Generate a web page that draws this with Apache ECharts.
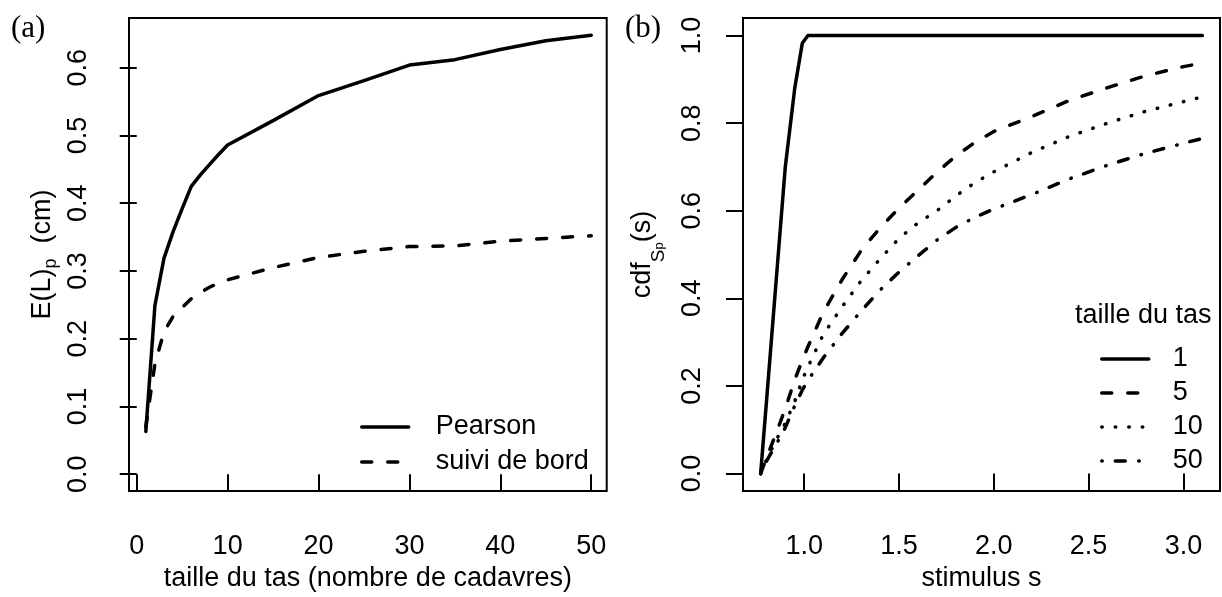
<!DOCTYPE html>
<html><head><meta charset="utf-8">
<script src="https://cdn.jsdelivr.net/npm/echarts@6/dist/echarts.min.js"></script>
<style>html,body{margin:0;padding:0;background:#fff}#c{width:1222px;height:597px}</style>
</head><body><div id="c"></div>
<script>
// ---- panel (a) data ----
const heapSizes   = [1, 2, 3, 4, 5, 6, 7, 8, 9, 10, 15, 20, 25, 30, 35, 40, 45, 50];
const pearson     = [0.063, 0.249, 0.319, 0.358, 0.392, 0.425, 0.442, 0.457, 0.472, 0.486, 0.522, 0.559, 0.581, 0.604, 0.612, 0.627, 0.640, 0.648];
const suiviDeBord = [0.070, 0.163, 0.210, 0.233, 0.246, 0.259, 0.268, 0.276, 0.282, 0.287, 0.305, 0.320, 0.329, 0.336, 0.337, 0.344, 0.348, 0.352];
// ---- panel (b) data ----
const stimulus = [0.77, 0.80, 0.85, 0.90, 0.95, 0.99, 1.02, 1.10, 1.20, 1.30, 1.40, 1.50, 1.60, 1.70, 1.80, 1.90, 2.00, 2.20, 2.40, 2.60, 2.80, 3.00, 3.10];
const cdf1  = [0, 0.16, 0.43, 0.70, 0.88, 0.983, 1, 1, 1, 1, 1, 1, 1, 1, 1, 1, 1, 1, 1, 1, 1, 1, 1];
const cdf5  = [0, 0.035, 0.090, 0.148, 0.214, 0.259, 0.290, 0.368, 0.443, 0.509, 0.561, 0.606, 0.647, 0.688, 0.725, 0.756, 0.781, 0.815, 0.852, 0.881, 0.908, 0.929, 0.937];
const cdf10 = [0, 0.030, 0.075, 0.115, 0.165, 0.214, 0.244, 0.317, 0.381, 0.440, 0.490, 0.537, 0.572, 0.600, 0.634, 0.664, 0.689, 0.733, 0.770, 0.800, 0.827, 0.849, 0.860];
const cdf50 = [0, 0.028, 0.065, 0.105, 0.155, 0.191, 0.213, 0.264, 0.320, 0.371, 0.419, 0.460, 0.497, 0.533, 0.562, 0.585, 0.604, 0.637, 0.673, 0.704, 0.731, 0.754, 0.765];
// ---- ticks ----
const leftXTicks  = [0, 10, 20, 30, 40, 50];
const leftYTicks  = [0, 0.1, 0.2, 0.3, 0.4, 0.5, 0.6];
const rightXTicks = [1.0, 1.5, 2.0, 2.5, 3.0];
const rightYTicks = [0, 0.2, 0.4, 0.6, 0.8, 1.0];
const legendA = ['Pearson', 'suivi de bord'];
const legendB = ['1', '5', '10', '50'];

const FONT = 'Liberation Sans';
const FS = 27;
const LW = 3.5;
const DASHED = [10, 16], DOTTED = [0.5, 13], DOTDASH = [0.5, 13, 10, 13.5];

function zip(xs, ys) { return xs.map((x, i) => [x, ys[i]]); }
function lineSeries(name, xi, yi, xs, ys, type) {
  return {
    name, type: 'line', xAxisIndex: xi, yAxisIndex: yi, data: zip(xs, ys),
    symbol: 'none', silent: true, animation: false,
    lineStyle: { color: '#000', width: LW, type: type, cap: 'round', join: 'round' }
  };
}
const tickStyle = { show: true, inside: false, length: 17, lineStyle: { color: '#000', width: 2 } };
const lblStyle = { color: '#000', fontFamily: FONT, fontSize: FS };

const chart = echarts.init(document.getElementById('c'), null, { renderer: 'canvas' });
chart.setOption({
  backgroundColor: '#fff',
  animation: false,
  title: [
    { text: '(a)', left: 6, top: 8, textStyle: { fontFamily: 'Liberation Serif', fontSize: 31, fontWeight: 'normal', color: '#000' } },
    { text: '(b)', left: 620, top: 8, textStyle: { fontFamily: 'Liberation Serif', fontSize: 31, fontWeight: 'normal', color: '#000' } },
    { text: 'taille du tas', left: 1070, top: 297, textStyle: { fontFamily: FONT, fontSize: FS, fontWeight: 'normal', color: '#000' } }
  ],
  grid: [
    { left: 129, top: 18, width: 477.7, height: 475, show: true, borderColor: '#000', borderWidth: 2, backgroundColor: 'transparent' },
    { left: 743, top: 18, width: 477, height: 475, show: true, borderColor: '#000', borderWidth: 2, backgroundColor: 'transparent' }
  ],
  xAxis: [
    { type: 'value', gridIndex: 0, min: -0.85, max: 51.7,
      axisLine: { show: false }, splitLine: { show: false },
      axisTick: Object.assign({ customValues: leftXTicks }, tickStyle),
      axisLabel: Object.assign({ customValues: leftXTicks, margin: 42, formatter: v => String(v) }, lblStyle),
      name: 'taille du tas (nombre de cadavres)', nameLocation: 'middle', nameGap: 70,
      nameTextStyle: lblStyle },
    { type: 'value', gridIndex: 1, min: 0.677, max: 3.193,
      axisLine: { show: false }, splitLine: { show: false },
      axisTick: Object.assign({ customValues: rightXTicks }, tickStyle),
      axisLabel: Object.assign({ customValues: rightXTicks, margin: 42, formatter: v => v.toFixed(1) }, lblStyle),
      name: 'stimulus s', nameLocation: 'middle', nameGap: 70,
      nameTextStyle: lblStyle }
  ],
  yAxis: [
    { type: 'value', gridIndex: 0, min: -0.025, max: 0.6735,
      axisLine: { show: false }, splitLine: { show: false },
      axisTick: Object.assign({ customValues: leftYTicks }, tickStyle),
      axisLabel: Object.assign({ customValues: leftYTicks, margin: 37, rotate: 90, formatter: v => v.toFixed(1) }, lblStyle),
      name: '{m|E(L)}{s|p}{m|  (cm)}', nameLocation: 'middle', nameRotate: 90, nameGap: 56,
      nameTextStyle: { rich: {
        m: { fontFamily: FONT, fontSize: FS, color: '#000', lineHeight: 27, verticalAlign: 'top' },
        s: { fontFamily: FONT, fontSize: 18, color: '#000', lineHeight: 44 }
      } } },
    { type: 'value', gridIndex: 1, min: -0.04, max: 1.04,
      axisLine: { show: false }, splitLine: { show: false },
      axisTick: Object.assign({ customValues: rightYTicks }, tickStyle),
      axisLabel: Object.assign({ customValues: rightYTicks, margin: 37, rotate: 90, formatter: v => v.toFixed(1) }, lblStyle),
      name: '{m|cdf}{s|S}{ss|p}{m|(s)}', nameLocation: 'middle', nameRotate: 90, nameGap: 54,
      nameTextStyle: { rich: {
        m: { fontFamily: FONT, fontSize: FS, color: '#000', lineHeight: 27, verticalAlign: 'top' },
        s: { fontFamily: FONT, fontSize: 19, color: '#000', lineHeight: 48 },
        ss: { fontFamily: FONT, fontSize: 13, color: '#000', lineHeight: 60 }
      } } }
  ],
  legend: [
    { data: legendA, orient: 'vertical', left: 355, top: 408, itemWidth: 47, itemHeight: 14, itemGap: 7,
      selectedMode: false, itemStyle: { opacity: 0 }, lineStyle: { width: LW, cap: 'round' },
      textStyle: { fontFamily: FONT, fontSize: FS, color: '#000', lineHeight: 28, padding: [0, 0, 0, 22] } },
    { data: legendB, orient: 'vertical', left: 1095, top: 340, itemWidth: 47, itemHeight: 14, itemGap: 6,
      selectedMode: false, itemStyle: { opacity: 0 }, lineStyle: { width: LW, cap: 'round' },
      textStyle: { fontFamily: FONT, fontSize: FS, color: '#000', lineHeight: 28, padding: [0, 0, 0, 19] } }
  ],
  series: [
    lineSeries('Pearson', 0, 0, heapSizes, pearson, 'solid'),
    lineSeries('suivi de bord', 0, 0, heapSizes, suiviDeBord, DASHED),
    lineSeries('1', 1, 1, stimulus, cdf1, 'solid'),
    lineSeries('5', 1, 1, stimulus, cdf5, DASHED),
    lineSeries('10', 1, 1, stimulus, cdf10, DOTTED),
    lineSeries('50', 1, 1, stimulus, cdf50, DOTDASH)
  ]
});
</script></body></html>
